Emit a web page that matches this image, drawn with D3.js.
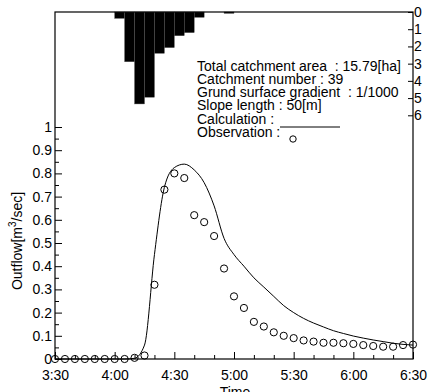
<!DOCTYPE html>
<html><head><meta charset="utf-8">
<script src="https://cdn.jsdelivr.net/npm/d3@7"></script>
<style>
html,body{margin:0;padding:0;background:#fff;}
svg{display:block;font-family:"Liberation Sans",Arial,sans-serif;}
text{white-space:pre;}
</style></head><body>
<svg id="c" width="432" height="392"></svg>
<script>
// ---- data ----
const obsTimes = ["3:30","3:35","3:40","3:45","3:50","3:55","4:00","4:05","4:10","4:15","4:20","4:25","4:30","4:35","4:40","4:45","4:50","4:55","5:00","5:05","5:10","5:15","5:20","5:25","5:30","5:35","5:40","5:45","5:50","5:55","6:00","6:05","6:10","6:15","6:20","6:25","6:30"];
const obsFlow = [0,0,0,0,0,0,0,0,0.005,0.015,0.32,0.73,0.80,0.78,0.62,0.59,0.53,0.39,0.27,0.22,0.16,0.14,0.115,0.10,0.09,0.08,0.075,0.07,0.07,0.068,0.065,0.06,0.056,0.053,0.053,0.06,0.062];
const calcTimes = ["3:30","3:35","3:40","3:45","3:50","3:55","4:00","4:05","4:10","4:15","4:20","4:25","4:30","4:35","4:40","4:45","4:50","4:55","5:00","5:05","5:10","5:15","5:20","5:25","5:30","5:35","5:40","5:45","5:50","5:55","6:00","6:05","6:10","6:15","6:20","6:25","6:30"];
const calcFlow = [0,0,0,0,0,0,0,0,0.003,0.06,0.45,0.74,0.825,0.84,0.815,0.76,0.66,0.52,0.45,0.40,0.35,0.31,0.27,0.23,0.20,0.175,0.155,0.138,0.122,0.11,0.099,0.09,0.082,0.075,0.068,0.063,0.06];
const rainTimes = ["4:00","4:05","4:10","4:15","4:20","4:25","4:30","4:35","4:40","4:45","4:50","4:55"];
const rainDepth = [0.37,2.89,5.34,4.95,2.40,2.07,1.38,1.20,0.31,0,0,0.08];
const xTickLabels = ["3:30","4:00","4:30","5:00","5:30","6:00","6:30"];
const flowTicks = [0,0.1,0.2,0.3,0.4,0.5,0.6,0.7,0.8,0.9,1];
const rainTicks = [0,1,2,3,4,5,6];
const infoLines = ["Total catchment area  : 15.79[ha]","Catchment number : 39","Grund surface gradient  : 1/1000","Slope length : 50[m]","Calculation :","Observation :"];

// ---- layout ----
const L = 55, R = 413, T = 12, B = 359;
const toMin = s => { const [h, m] = s.split(":").map(Number); return h * 60 + m; };
const svg = d3.select("#c");
const x = d3.scaleLinear().domain([toMin("3:30"), toMin("6:30")]).range([L, R]);
const y = d3.scaleLinear().domain([0, 1]).range([B, 127]);
const yr = d3.scaleLinear().domain([0, 6]).range([T, 115.3]);

// rain bars
svg.append("g").selectAll("rect").data(rainTimes.map((t, i) => ({t: toMin(t), v: rainDepth[i]})).filter(d => d.v > 0))
  .join("rect")
  .attr("x", d => x(d.t)).attr("width", d => x(d.t + 5) - x(d.t))
  .attr("y", yr(0)).attr("height", d => yr(d.v) - yr(0))
  .attr("fill", "#000").attr("stroke", "#555").attr("stroke-width", 0.4);

// frame
svg.append("rect").attr("x", L).attr("y", T).attr("width", R - L).attr("height", B - T)
  .attr("fill", "none").attr("stroke", "#000").attr("stroke-width", 1.2);

const fmtFlow = d => (d === 0 || d === 1) ? String(d) : d3.format(".1f")(d);
const styleAxis = g => { g.select(".domain").remove(); g.selectAll("text").attr("font-size", 14).attr("font-family", "Liberation Sans, Arial, sans-serif").attr("fill", "#000"); g.selectAll("line").attr("stroke", "#000"); };

// left axis
svg.append("g").attr("transform", `translate(${L},0)`)
  .call(d3.axisLeft(y).tickValues(flowTicks).tickFormat(fmtFlow).tickSizeInner(-7).tickSizeOuter(0).tickPadding(3))
  .call(styleAxis);
svg.append("g").attr("transform", `translate(${L},0)`)
  .call(d3.axisLeft(y).tickValues(d3.range(0.05, 1, 0.1)).tickFormat("").tickSizeInner(-4).tickSizeOuter(0))
  .call(styleAxis);

// bottom axis
const xMajor = xTickLabels.map(toMin);
svg.append("g").attr("transform", `translate(0,${B})`)
  .call(d3.axisBottom(x).tickValues(xMajor).tickFormat((d, i) => xTickLabels[i]).tickSizeInner(-7).tickSizeOuter(0).tickPadding(11))
  .call(styleAxis);
svg.append("g").attr("transform", `translate(0,${B})`)
  .call(d3.axisBottom(x).tickValues(d3.range(toMin("3:30"), toMin("6:30"), 10).filter(m => !xMajor.includes(m))).tickFormat("").tickSizeInner(-4).tickSizeOuter(0))
  .call(styleAxis);

// right rain axis
svg.append("g").attr("transform", `translate(${R},0)`)
  .call(d3.axisRight(yr).tickValues(rainTicks).tickFormat(d3.format("d")).tickSizeInner(-5).tickSizeOuter(0).tickPadding(1))
  .call(styleAxis);

// calculation line
svg.append("path")
  .datum(calcTimes.map((t, i) => [toMin(t), calcFlow[i]]))
  .attr("fill", "none").attr("stroke", "#000").attr("stroke-width", 1)
  .attr("d", d3.line().x(d => x(d[0])).y(d => y(d[1])).curve(d3.curveMonotoneX));

// observations
svg.append("g").selectAll("circle").data(obsTimes.map((t, i) => [toMin(t), obsFlow[i]]))
  .join("circle").attr("cx", d => x(d[0])).attr("cy", d => y(d[1])).attr("r", 3.6)
  .attr("fill", "none").attr("stroke", "#000").attr("stroke-width", 1);

// axis titles
svg.append("text").attr("x", 235).attr("y", 397).attr("text-anchor", "middle").attr("font-size", 14).text("Time");
const yt = svg.append("text").attr("transform", "translate(22,241) rotate(-90)").attr("text-anchor", "middle").attr("font-size", 14);
yt.append("tspan").text("Outflow[m");
yt.append("tspan").attr("font-size", 10).attr("dy", -6).text("3");
yt.append("tspan").attr("dy", 6).text("/sec]");

// info block
const info = svg.append("g").attr("font-size", 14);
infoLines.forEach((s, i) => {
  info.append("text").attr("x", 197).attr("y", 70.7 + i * 13.2).text(s);
});
svg.append("line").attr("x1", 280).attr("x2", 340).attr("y1", 127).attr("y2", 127).attr("stroke", "#000").attr("stroke-width", 1);
svg.append("circle").attr("cx", 293).attr("cy", 139).attr("r", 3.2).attr("fill", "none").attr("stroke", "#000").attr("stroke-width", 1);
</script></body></html>
